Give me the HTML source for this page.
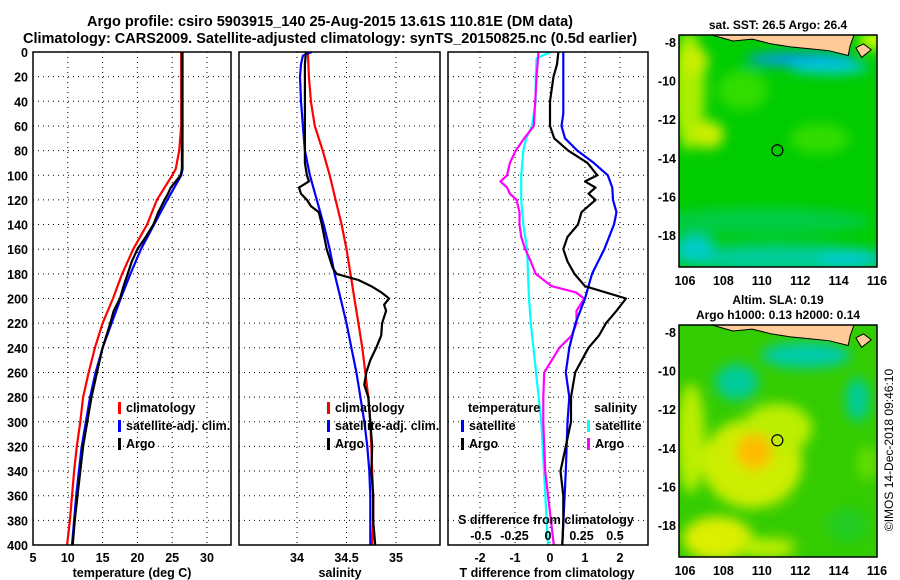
<!DOCTYPE html>
<html><head><meta charset="utf-8">
<style>
body{margin:0;background:#fff;}
svg{display:block;font-family:"Liberation Sans",sans-serif;font-weight:bold;}
</style></head>
<body>
<svg id="c" width="900" height="580" viewBox="0 0 900 580">
<defs>
<filter id="blur1" x="-50%" y="-50%" width="200%" height="200%"><feGaussianBlur stdDeviation="6"/></filter>
<clipPath id="m1clip"><rect x="679" y="35" width="198" height="232"/></clipPath>
<clipPath id="m2clip"><rect x="679" y="325" width="198" height="232"/></clipPath>
</defs>
<g font-size="14.5" text-anchor="middle">
<text x="330" y="26">Argo profile: csiro 5903915_140 25-Aug-2015 13.61S 110.81E (DM data)</text>
<text x="330" y="43">Climatology: CARS2009. Satellite-adjusted climatology: synTS_20150825.nc (0.5d earlier)</text>
</g>
<g id="panels"></g>
<g id="maps"></g>
<text transform="translate(893,450) rotate(-90)" text-anchor="middle" font-size="12" font-weight="normal">©IMOS 14-Dec-2018 09:46:10</text>
</svg>
<script>
// ---- depth axis ----
const depthTicks=[0,20,40,60,80,100,120,140,160,180,200,220,240,260,280,300,320,340,360,380,400];
// ---- temperature panel ----
const tempTicks=[5,10,15,20,25,30];
const tClimD=[0,60,80,95,100,120,140,160,180,200,220,240,260,280,300,320,340,360,380,400];
const tClimV=[26.3,26.3,26.0,25.5,25.0,22.8,21.4,19.4,17.8,16.5,15.0,13.9,13.0,12.2,11.8,11.3,10.9,10.6,10.3,9.9];
const tSatD=[0,95,100,110,120,140,160,180,200,220,240,260,280,300,320,340,360,380,400];
const tSatV=[26.5,26.5,26.3,25.3,24.3,22.4,20.5,19.0,17.6,16.3,15.0,14.0,13.2,12.6,12.0,11.6,11.2,10.9,10.6];
const tArgoD=[0,95,100,110,115,120,130,140,150,160,170,180,190,200,210,220,240,260,280,300,320,340,360,380,400];
const tArgoV=[26.4,26.4,26.2,24.8,24.4,23.9,23.0,22.3,21.2,20.0,19.2,18.6,18.0,17.5,16.6,16.1,15.0,14.2,13.4,12.8,12.2,11.8,11.4,11.0,10.7];
// ---- salinity panel ----
const salTicks=[34,34.5,35];
const sClimD=[0,20,40,60,80,100,120,140,160,180,200,220,240,260,280,300,320,340,360,380,400];
const sClimV=[34.11,34.12,34.14,34.18,34.26,34.33,34.39,34.45,34.50,34.54,34.58,34.62,34.66,34.69,34.72,34.74,34.75,34.76,34.77,34.77,34.76];
const sSatD=[0,3,10,20,40,60,80,100,120,140,160,180,200,220,240,260,280,300,320,340,360,380,400];
const sSatV=[34.15,34.06,34.04,34.03,34.04,34.06,34.08,34.13,34.20,34.27,34.33,34.38,34.44,34.50,34.55,34.60,34.64,34.68,34.71,34.73,34.74,34.74,34.74];
const sArgoD=[0,10,60,90,100,105,110,115,120,125,130,140,160,175,180,185,190,195,200,205,210,220,230,240,250,260,270,280,300,320,340,360,380,400];
const sArgoV=[34.09,34.08,34.08,34.08,34.10,34.12,34.02,34.04,34.10,34.14,34.22,34.25,34.30,34.36,34.40,34.62,34.75,34.85,34.93,34.88,34.90,34.86,34.85,34.80,34.74,34.70,34.68,34.72,34.74,34.76,34.75,34.77,34.77,34.79];
// ---- difference panel ----
const tdTicks=[-2,-1,0,1,2];
const sdTicks=[-0.5,-0.25,0,0.25,0.5];
const sdTickLabels=["-0.5","-0.25","0","0.25","0.5"];
const dTSatD=[0,50,60,70,80,90,100,110,120,130,140,160,180,200,220,240,260,280,300,340,400];
const dTSatV=[0.38,0.38,0.33,0.43,0.78,1.25,1.65,1.78,1.8,1.9,1.83,1.55,1.2,1.0,0.73,0.55,0.45,0.55,0.5,0.45,0.35];
const dTArgoD=[0,10,20,40,60,70,80,90,100,105,110,115,120,130,140,150,160,170,180,190,200,210,220,230,240,260,280,300,320,340,360,380,400];
const dTArgoV=[0.24,0.2,0.1,0,0,0.12,0.52,1.07,1.35,1.0,1.3,1.1,1.3,0.9,0.8,0.5,0.38,0.5,0.7,1.0,2.17,1.9,1.6,1.4,1.1,0.72,0.6,0.6,0.45,0.3,0.38,0.38,0.35];
const dSSatD=[0,5,20,40,60,70,80,100,120,140,160,180,200,220,300,400];
const dSSatV=[0.02,-0.085,-0.092,-0.092,-0.12,-0.163,-0.184,-0.2,-0.2,-0.184,-0.156,-0.149,-0.142,-0.128,-0.05,0];
const dSArgoD=[0,20,60,70,80,90,100,105,110,115,120,130,140,150,160,170,180,190,195,200,210,220,230,240,260,280,300,340,400];
const dSArgoV=[-0.071,-0.085,-0.106,-0.177,-0.241,-0.284,-0.305,-0.355,-0.305,-0.284,-0.234,-0.213,-0.213,-0.2,-0.17,-0.128,-0.092,0.028,0.206,0.27,0.213,0.213,0.177,0.085,-0.028,-0.035,-0.035,-0.021,0.043];

const NS="http://www.w3.org/2000/svg";
const panelsG=document.getElementById('panels');
function mk(tag,attrs,parent){const e=document.createElementNS(NS,tag);for(const k in attrs)e.setAttribute(k,attrs[k]);(parent||panelsG).appendChild(e);return e;}
const Y0=52,Y1=545;
function yD(d){return Y0+(d/400)*(Y1-Y0);}
function linScale(v0,p0,v1,p1){return v=>p0+(v-v0)*(p1-p0)/(v1-v0);}
const xT=linScale(5,33,30,207);
const xS=linScale(34,297,35,396);
const xTD=linScale(0,550,2,620);
const xSD=linScale(0,548,0.5,615);

function frame(x0,x1,name){
  const g=mk('g',{});
  
  
  return g;
}
function hgrid(g,x0,x1){
  depthTicks.forEach(d=>{const y=yD(d);
    const l=mk('line',{x1:x0,x2:x1,y1:y,y2:y,stroke:'#000','stroke-width':1,'stroke-dasharray':'1,4'},g);
    
    
  });
}
function vgrid(g,xs,sc){
  xs.forEach(v=>{const x=sc(v);
    const l=mk('line',{x1:x,x2:x,y1:Y0,y2:Y1,stroke:'#000','stroke-width':1,'stroke-dasharray':'1,4'},g);
    
    
  });
}
function box(g,x0,x1){
  const r=mk('rect',{x:x0,y:Y0,width:x1-x0,height:Y1-Y0,fill:'none',stroke:'#000','stroke-width':1.5},g);
  
  
}
function series(g,D,V,sc,color,name){
  const pts=D.map((d,i)=>sc(V[i]).toFixed(1)+','+yD(d).toFixed(1)).join(' ');
  const p=mk('polyline',{points:pts,fill:'none',stroke:color,'stroke-width':2.2,'stroke-linejoin':'round'},g);
  
  
}
function xlabels(g,vals,sc,y,labels){
  vals.forEach((v,i)=>{const t=mk('text',{x:sc(v),y:y,'text-anchor':'middle','font-size':12.5},g);t.textContent=labels?labels[i]:String(v);
    
    });
}
function legend(g,x,y,items){
  items.forEach((it,i)=>{
    const r=mk('rect',{x:x,y:y+i*18-10,width:3,height:12,fill:it[1]},g);
    
    
    const t=mk('text',{x:x+8,y:y+i*18,'font-size':12.5},g);t.textContent=it[0];
    
    
  });
}
// Panel 1
let g1=frame(33,231,'temperature-panel');
hgrid(g1,33,231);vgrid(g1,[10,15,20,25,30],xT);
series(g1,tClimD,tClimV,xT,'#ff0000','temp-climatology-line');
series(g1,tSatD,tSatV,xT,'#0000ff','temp-satellite-line');
series(g1,tArgoD,tArgoV,xT,'#000000','temp-argo-line');
box(g1,33,231);
depthTicks.forEach(d=>{const t=mk('text',{x:28,y:yD(d)+5,'text-anchor':'end','font-size':12.5},g1);t.textContent=d;
  
  });
xlabels(g1,tempTicks,xT,562);
const tl1=mk('text',{x:132,y:577,'text-anchor':'middle','font-size':12.5},g1);tl1.textContent='temperature (deg C)';


legend(g1,118,412,[['climatology','#ff0000'],['satellite-adj. clim.','#0000ff'],['Argo','#000']]);
// Panel 2
let g2=frame(239,440,'salinity-panel');
hgrid(g2,239,440);vgrid(g2,salTicks,xS);
series(g2,sClimD,sClimV,xS,'#ff0000','sal-climatology-line');
series(g2,sSatD,sSatV,xS,'#0000ff','sal-satellite-line');
series(g2,sArgoD,sArgoV,xS,'#000000','sal-argo-line');
box(g2,239,440);
xlabels(g2,salTicks,xS,562);
const tl2=mk('text',{x:340,y:577,'text-anchor':'middle','font-size':12.5},g2);tl2.textContent='salinity';


legend(g2,327,412,[['climatology','#ff0000'],['satellite-adj. clim.','#0000ff'],['Argo','#000']]);
// Panel 3
let g3=frame(448,648,'difference-panel');
hgrid(g3,448,648);vgrid(g3,tdTicks,xTD);
series(g3,dSSatD,dSSatV,xSD,'#00ffff','sal-diff-satellite-line');
series(g3,dSArgoD,dSArgoV,xSD,'#ff00ff','sal-diff-argo-line');
series(g3,dTSatD,dTSatV,xTD,'#0000ff','temp-diff-satellite-line');
series(g3,dTArgoD,dTArgoV,xTD,'#000000','temp-diff-argo-line');
box(g3,448,648);
xlabels(g3,tdTicks,xTD,562);
const tl3=mk('text',{x:547,y:577,'text-anchor':'middle','font-size':12.5},g3);tl3.textContent='T difference from climatology';


const st=mk('text',{x:546,y:524,'text-anchor':'middle','font-size':12.5},g3);st.textContent='S difference from climatology';


xlabels(g3,sdTicks,xSD,540,sdTickLabels);
const lt=mk('text',{x:468,y:412,'font-size':12.5},g3);lt.textContent='temperature';


const ls=mk('text',{x:594,y:412,'font-size':12.5},g3);ls.textContent='salinity';


legend(g3,461,430,[['satellite','#0000ff'],['Argo','#000']]);
legend(g3,587,430,[['satellite','#00ffff'],['Argo','#ff00ff']]);

// ---- maps ----
const mapsG=document.getElementById('maps');
const lonTicks=[106,108,110,112,114,116];
const latTicks=[-8,-10,-12,-14,-16,-18];
const argoLon=110.81, argoLat=-13.61;
function mkm(tag,attrs,parent){return mk(tag,attrs,parent||mapsG);}
function drawMap(top,name,blobs,base,title){
  const g=mkm('g',{});
  
  
  const xL=linScale(106,685,116,877), yL=linScale(-8,top+7,-18,top+200);
  const cg=mkm('g',{'clip-path':'url(#'+(top<100?'m1clip':'m2clip')+')'},g);
  const bg=mkm('rect',{x:679,y:top,width:198,height:232,fill:base},cg);
  
  
  const bl=mkm('g',{filter:'url(#blur1)'},cg);
  blobs.forEach(b=>{const e=mkm('ellipse',{cx:xL(b[0]),cy:yL(b[1]),rx:b[2],ry:b[3],fill:b[4]},bl);
    
    });
  const land=mkm('path',{d:`M${xL(107.4)},${top} L${xL(108.5)},${yL(-7.95)} L${xL(109.5)},${yL(-7.85)} L${xL(110.5)},${yL(-8.1)} L${xL(111.5)},${yL(-8.25)} L${xL(112.5)},${yL(-8.35)} L${xL(113.5)},${yL(-8.45)} L${xL(114.5)},${yL(-8.7)} L${xL(114.6)},${yL(-8.2)} L${xL(114.8)},${top} Z`,fill:'#ffcc99',stroke:'#000','stroke-width':1},cg);
  
  
  const bali=mkm('path',{d:`M${xL(114.9)},${yL(-8.3)} L${xL(115.3)},${yL(-8.1)} L${xL(115.7)},${yL(-8.4)} L${xL(115.2)},${yL(-8.8)} Z`,fill:'#ffcc99',stroke:'#000','stroke-width':1},cg);
  
  
  const fr=mkm('rect',{x:679,y:top,width:198,height:232,fill:'none',stroke:'#000','stroke-width':1.5},g);
  
  
  const c=mkm('circle',{cx:xL(argoLon),cy:yL(argoLat),r:5.5,fill:'none',stroke:'#000','stroke-width':1.2},g);
  
  
  lonTicks.forEach(v=>{const t=mkm('text',{x:xL(v),y:top+250,'text-anchor':'middle','font-size':12.5},g);t.textContent=v;
    
    });
  latTicks.forEach(v=>{const t=mkm('text',{x:676,y:yL(v)+5,'text-anchor':'end','font-size':12.5},g);t.textContent=v;
    
    });
  title.forEach((s,i)=>{const t=mkm('text',{x:778,y:top-(title.length-1-i)*15-6,'text-anchor':'middle','font-size':12},g);t.textContent=s;
    
    });
}
drawMap(35,'sst-map',[
 [106.2,-10.5,16,60,'#aaee00'],[107.2,-12.8,16,14,'#ccee00'],[106.5,-9,14,14,'#ccee00'],
 [109,-10.5,25,20,'#33dd00'],[113,-13,30,15,'#33dd00'],
 [110,-17.3,110,14,'#00cc44'],[111,-19.2,110,14,'#00cc99'],[114.5,-19.3,30,10,'#00cccc'],
 [106.5,-18.6,20,12,'#00cccc'],[112,-8.9,55,7,'#0099ee'],[113.5,-9.3,40,7,'#00ccdd'],[115.8,-7.9,14,10,'#ccff00']
],'#00cc00',['sat. SST: 26.5 Argo: 26.4']);
drawMap(325,'sla-map',[
 [109.5,-14.8,50,45,'#ccee00'],[110.8,-13,35,25,'#bbee00'],[109.6,-14.2,18,18,'#ffbb00'],
 [106.3,-13.5,14,55,'#bbee00'],[107.7,-18.7,35,22,'#ddee00'],[110.2,-19.2,30,10,'#bbee00'],
 [108.7,-10.6,22,18,'#00cc99'],[112.3,-9.2,45,13,'#00ccaa'],
 [115,-11.5,12,22,'#00cc99'],[112.5,-17.8,35,18,'#33cc00'],[115.5,-14.8,10,18,'#66dd00'],[114.5,-18,20,18,'#22cc22']
],'#33cc00',['Altim. SLA: 0.19','Argo h1000: 0.13 h2000: 0.14']);
</script>
</body></html>
